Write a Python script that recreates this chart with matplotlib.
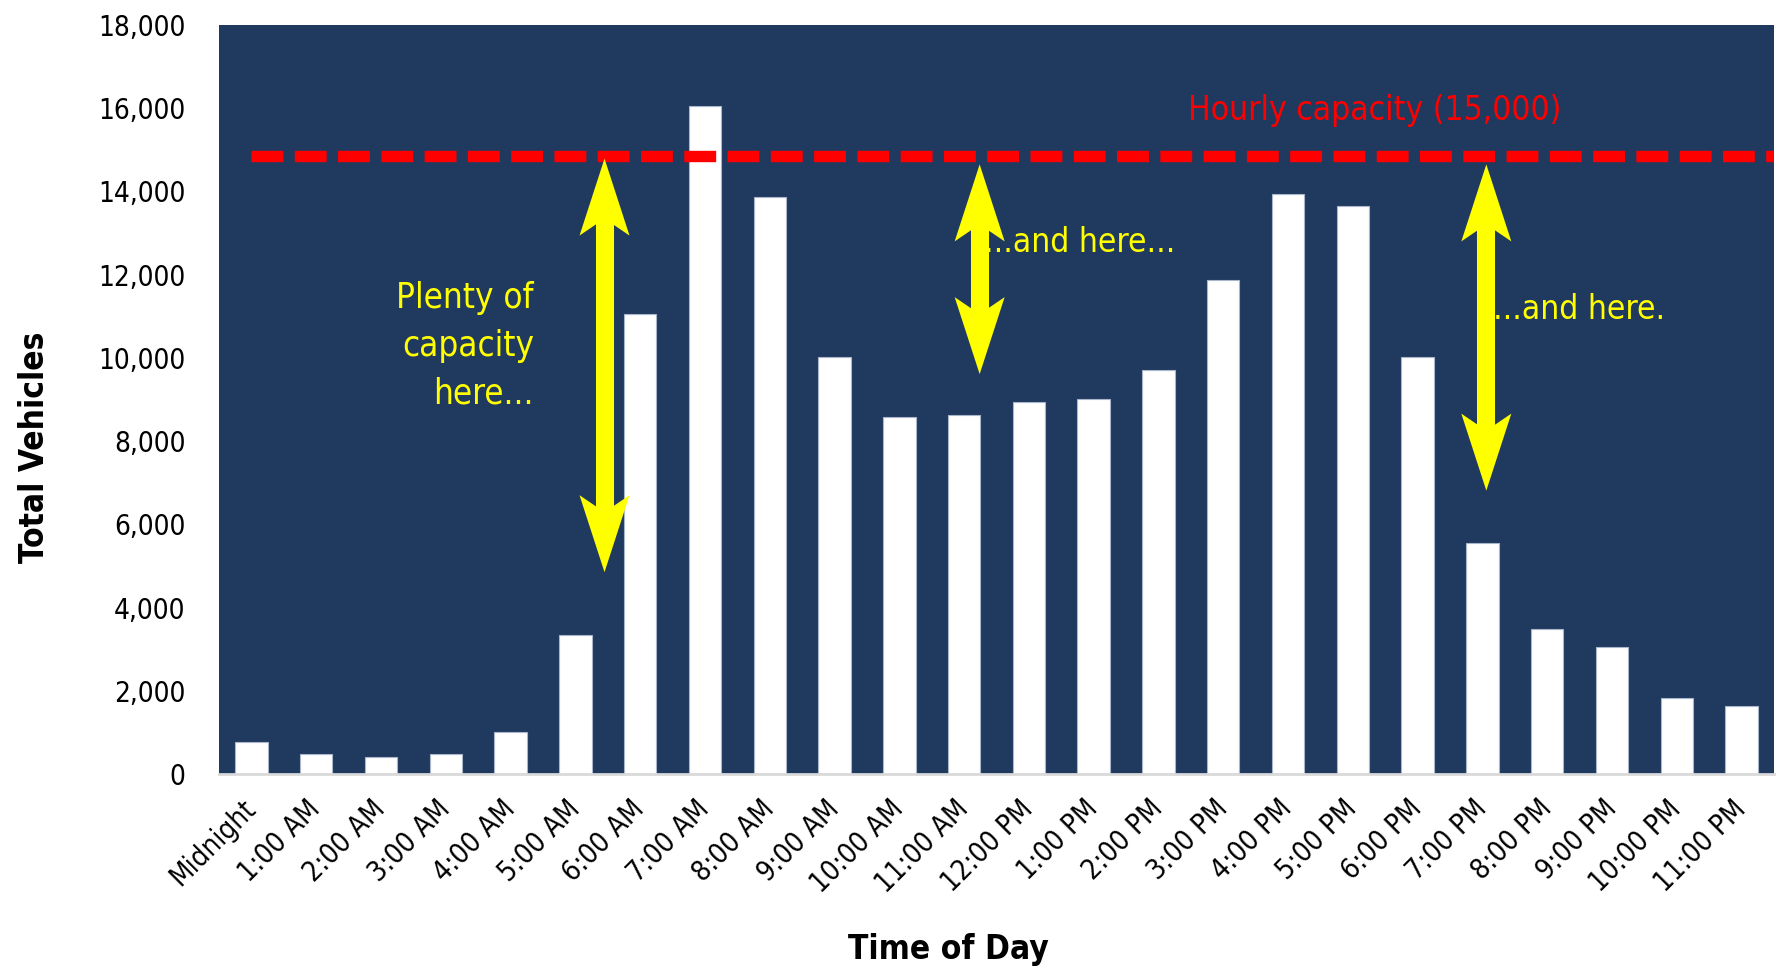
import matplotlib
matplotlib.use("Agg")
import matplotlib.pyplot as plt
import matplotlib.transforms as mtransforms
from matplotlib.patches import Polygon
from matplotlib.ticker import FuncFormatter

plt.rcParams['font.family'] = ['Liberation Sans Narrow', 'DejaVu Sans']
plt.rcParams['font.stretch'] = 'condensed'

hours = ["Midnight", "1:00 AM", "2:00 AM", "3:00 AM", "4:00 AM", "5:00 AM",
         "6:00 AM", "7:00 AM", "8:00 AM", "9:00 AM", "10:00 AM", "11:00 AM",
         "12:00 PM", "1:00 PM", "2:00 PM", "3:00 PM", "4:00 PM", "5:00 PM",
         "6:00 PM", "7:00 PM", "8:00 PM", "9:00 PM", "10:00 PM", "11:00 PM"]
vehicles = [780, 470, 420, 470, 1020, 3350, 11050, 16060, 13860, 10020, 8580, 8630,
            8930, 9010, 9700, 11870, 13940, 13640, 10020, 5560, 3490, 3050, 1830, 1640]
capacity_line = 14850
capacity_label = "Hourly capacity (15,000)"

NAVY = '#20395F'
YELLOW = '#FFFF00'
RED = '#FF0000'

fig = plt.figure(figsize=(17.77, 9.73), dpi=100)
ax = fig.add_axes([219/1777, 1-774/973, (1774-219)/1777, (774-25)/973])
ax.set_facecolor(NAVY)

x = list(range(len(hours)))
ax.bar(x, vehicles, width=0.5, color='white', edgecolor='#A9B6CA', linewidth=0.8, zorder=2)

ax.set_xlim(-0.5, len(hours) - 0.5)
ax.set_ylim(0, 18000)
ax.set_yticks(range(0, 18001, 2000))
ax.yaxis.set_major_formatter(FuncFormatter(lambda v, p: f"{int(v):,}"))
ax.tick_params(axis='y', length=0, pad=24, labelsize=20)
ax.set_xticks(x)
ax.set_xticklabels(hours, rotation=45, ha='right', va='center', rotation_mode='anchor', fontsize=20)
ax.tick_params(axis='x', length=0, pad=22)
for s in ['top', 'right', 'left']:
    ax.spines[s].set_visible(False)
ax.spines['bottom'].set_color('#D9D9D9')
ax.spines['bottom'].set_linewidth(2)

# capacity line
ax.plot([0, len(hours) - 0.5], [capacity_line, capacity_line], color=RED, lw=8.2,
        dashes=(2.8, 1.0), solid_capstyle='butt', dash_capstyle='butt', zorder=4)
ax.text(14.45, 15950, capacity_label, color=RED, fontsize=24, ha='left', va='center', zorder=5)

# double-headed arrows: heads sized in inches, anchored at data tips
HEAD_L, HEAD_HW, NOTCH = 0.77, 0.25, 0.60
data_per_inch = (ax.get_ylim()[1] - ax.get_ylim()[0]) / (ax.get_position().height * fig.get_figheight())

def head(xc, yt, sign):
    trans = fig.dpi_scale_trans + mtransforms.ScaledTranslation(xc, yt, ax.transData)
    verts = [(0, 0), (-HEAD_HW, -sign * HEAD_L), (0, -sign * NOTCH), (HEAD_HW, -sign * HEAD_L)]
    ax.add_patch(Polygon(verts, closed=True, transform=trans, facecolor=YELLOW,
                         edgecolor='none', zorder=5))

def double_arrow(xc, y0, y1):
    inset = (NOTCH - 0.05) * data_per_inch
    ax.plot([xc, xc], [y0 - inset, y1 + inset], color=YELLOW, lw=13,
            solid_capstyle='butt', zorder=5)
    head(xc, y0, 1)
    head(xc, y1, -1)

double_arrow(5.45, 14790, 4850)
double_arrow(11.24, 14650, 9610)
double_arrow(19.06, 14650, 6810)

ax.text(4.36, 10290, "Plenty of\ncapacity\nhere...", color=YELLOW, fontsize=25,
        ha='right', va='center', linespacing=1.5, zorder=6)
ax.text(11.30, 12770, "...and here...", color=YELLOW, fontsize=24, ha='left', va='center', zorder=6)
ax.text(19.17, 11160, "...and here.", color=YELLOW, fontsize=24, ha='left', va='center', zorder=6)

ax.set_xlabel("Time of Day", fontsize=24, fontweight='bold', va='center')
ax.set_ylabel("Total Vehicles", fontsize=24, fontweight='bold', va='center')
ax.xaxis.set_label_coords((948-219)/1555, (774-950)/749)
ax.yaxis.set_label_coords((34-219)/1555, (774-447)/749)

fig.savefig("out.png", dpi=100)
